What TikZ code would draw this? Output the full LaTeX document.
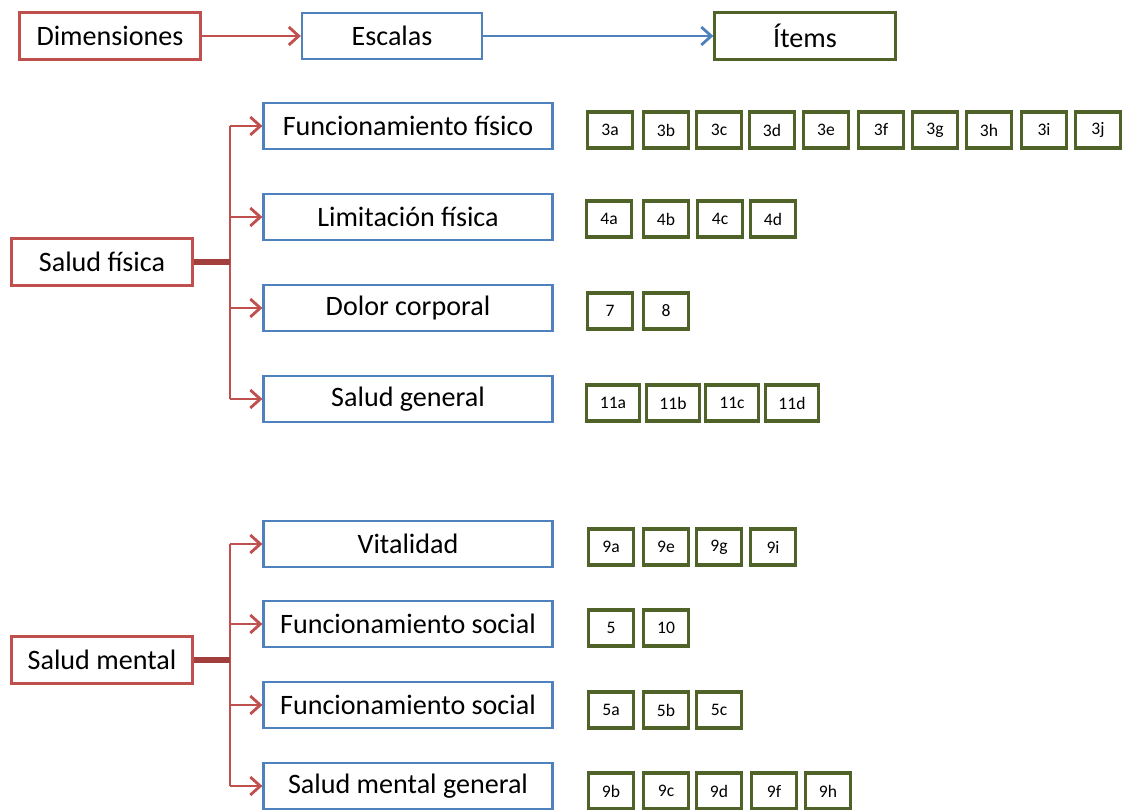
\documentclass[tikz,border=0pt]{standalone}
\usepackage{fontspec}
\setmainfont{Carlito}
\usetikzlibrary{arrows.meta}
\definecolor{rojo}{HTML}{C0504D}
\definecolor{rojoosc}{HTML}{A23E3B}
\definecolor{azul}{HTML}{4F81BD}
\definecolor{verde}{HTML}{4F6228}

\begin{document}
\begin{tikzpicture}[x=0.02cm,y=-0.02cm,line width=1.3pt,>={Straight Barb[length=2mm,width=3.6mm,line width=1.6pt]},
  dimbox/.style={draw=rojo,fill=white,minimum width=3.62cm,minimum height=0.94cm,font=\fontsize{16}{19}\selectfont},
  escbox/.style={draw=azul,fill=white,minimum width=5.78cm,minimum height=0.92cm,font=\fontsize{16}{19}\selectfont},
  itembox/.style={draw=verde,line width=2.2pt,fill=white,minimum width=0.9cm,minimum height=0.72cm,inner sep=0pt,font=\fontsize{10}{12}\selectfont},
  rama/.style={draw=rojo,line width=1.6pt,->},
  tronco/.style={draw=rojoosc,line width=3pt}]
  \useasboundingbox (0,0) rectangle (1125,810);
  % leyenda
  \node[dimbox] (dim) at (110,36) {Dimensiones};
  \node[escbox,minimum width=3.6cm] (esc) at (392,36) {Escalas};
  \node[dimbox,draw=verde] (item) at (805,36) {Ítems};
  \draw[->,rojo,line width=1.6pt] (dim) -- (esc);
  \draw[->,azul,line width=1.6pt] (esc) -- (item);
  % dimensiones
  \node[dimbox] (sf) at (102,262) {Salud física};
  \node[dimbox] (sm) at (102,660) {Salud mental};
  % escalas
  \node[escbox] (ff) at (408,126) {Funcionamiento físico};
  \node[escbox] (lf) at (408,217) {Limitación física};
  \node[escbox] (dc) at (408,308) {Dolor corporal};
  \node[escbox] (sg) at (408,399) {Salud general};
  \node[escbox] (vt) at (408,544) {Vitalidad};
  \node[escbox] (fs1) at (408,624) {Funcionamiento social};
  \node[escbox] (fs2) at (408,705) {Funcionamiento social};
  \node[escbox] (smg) at (408,786) {Salud mental general};
  % ramas salud fisica
  \coordinate (sfv) at (230,262);
  \draw[rojo,line width=1.6pt] (sfv |- ff.west) -- (sfv |- sg.west);
  \foreach \e in {ff,lf,dc,sg}
    \draw[rama] (sfv |- \e.west) -- (\e.west);
  \draw[tronco] (sf.east) -- (sfv);
  % ramas salud mental
  \coordinate (smv) at (230,660);
  \draw[rojo,line width=1.6pt] (smv |- vt.west) -- (smv |- smg.west);
  \foreach \e in {vt,fs1,fs2,smg}
    \draw[rama] (smv |- \e.west) -- (\e.west);
  \draw[tronco] (sm.east) -- (smv);
  % items
  \foreach \n/\x in {3a/610,3b/666,3c/719,3d/772,3e/826,3f/881,3g/935,3h/989,3i/1044,3j/1098}
    \node[itembox] (i\n) at (\x,130) {\n};
  \foreach \n/\x in {4a/609,4b/666,4c/720,4d/773}
    \node[itembox] (i\n) at (\x,219) {\n};
  \foreach \n/\x in {7/610,8/666}
    \node[itembox] (i\n) at (\x,311) {\n};
  \foreach \n/\x in {11a/613,11b/673,11c/732,11d/792}
    \node[itembox,minimum width=1.06cm] (i\n) at (\x,403) {\n};
  \foreach \n/\x in {9a/611,9e/666,9g/719,9i/773}
    \node[itembox] (i\n) at (\x,547) {\n};
  \foreach \n/\x in {5/611,10/666}
    \node[itembox] (i\n) at (\x,628) {\n};
  \foreach \n/\x in {5a/611,5b/666,5c/719}
    \node[itembox] (i\n) at (\x,710) {\n};
  \foreach \n/\x in {9b/611,9c/666,9d/719,9f/774,9h/828}
    \node[itembox] (i\n) at (\x,791) {\n};
\end{tikzpicture}
\end{document}
